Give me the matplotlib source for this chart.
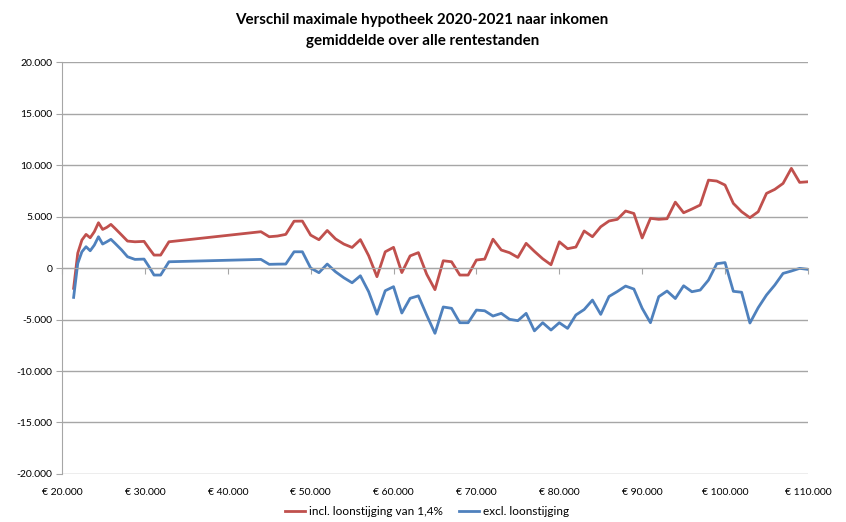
import matplotlib
matplotlib.use("Agg")
import matplotlib.pyplot as plt
from matplotlib.ticker import FuncFormatter, MultipleLocator, FixedLocator

plt.rcParams["font.family"] = ["Lato", "DejaVu Sans"]

# inkomen (x) en verschil maximale hypotheek
inkomen = [21400, 21900, 22400, 22900, 23400, 23900, 24400, 24900, 25400, 25900,
           26400, 27200, 27900, 28800, 29900, 30500, 31100, 31900, 32900,
           44000, 45000, 46000, 47000, 48000, 49000, 50000, 51000, 52000, 53000,
           54000, 55000, 56000, 57000, 58000, 59000, 60000, 61000, 62000, 63000,
           64000, 65000, 66000, 67000, 68000, 69000, 70000, 71000, 72000, 73000,
           74000, 75000, 76000, 77000, 78000, 79000, 80000, 81000, 82000, 83000,
           84000, 85000, 86000, 87000, 88000, 89000, 90000, 91000, 92000, 93000,
           94000, 95000, 96000, 97000, 98000, 99000, 100000, 101000, 102000, 103000,
           104000, 105000, 106000, 107000, 108000, 109000, 110000]

incl_loonstijging = [-1970, 1450, 2720, 3270, 2940, 3530, 4400, 3750, 3950, 4240,
                     3850, 3200, 2620, 2550, 2590, 1910, 1260, 1260, 2550,
                     3530, 3040, 3110, 3270, 4550, 4560, 3200, 2750, 3650, 2830,
                     2330, 2000, 2760, 1200, -840, 1580, 2010, -440, 1180, 1500,
                     -600, -2100, 710, 610, -680, -680, 780, 870, 2800, 1750,
                     1490, 1030, 2400, 1620, 900, 320, 2550, 1880, 2040, 3600,
                     3040, 4010, 4570, 4730, 5540, 5300, 2920, 4830, 4730, 4790,
                     6400, 5370, 5730, 6120, 8540, 8450, 8060, 6280, 5470, 4890,
                     5470, 7250, 7640, 8220, 9680, 8320, 8380]

excl_loonstijging = [-2850, 450, 1580, 2070, 1680, 2230, 3040, 2330, 2550, 2790,
                     2400, 1750, 1100, 840, 870, 130, -680, -680, 610,
                     840, 360, 380, 390, 1580, 1580, 0, -450, 390, -360,
                     -940, -1430, -750, -2300, -4480, -2200, -1810, -4370, -2940, -2700,
                     -4570, -6340, -3780, -3910, -5310, -5310, -4080, -4150, -4660, -4400,
                     -4980, -5110, -4400, -6100, -5310, -6020, -5310, -5860, -4560, -4030,
                     -3110, -4500, -2760, -2280, -1750, -2040, -3910, -5310, -2780, -2230,
                     -2960, -1720, -2300, -2140, -1170, 420, 530, -2260, -2350, -5340,
                     -3850, -2620, -1650, -520, -290, -30, -130]

x_ticks = [20000, 30000, 40000, 50000, 60000, 70000, 80000, 90000, 100000, 110000]

red = "#C0504D"
blue = "#4F81BD"
grid_color = "#a6a6a6"


def nl_getal(v, pos=None):
    return f"{v:,.0f}".replace(",", ".")


def euro(v, pos=None):
    return "€ " + nl_getal(v)


fig = plt.figure(figsize=(8.46, 5.22), dpi=100)
ax = fig.add_axes([0.0733, 0.092, 0.8817, 0.789])

ax.plot(inkomen, incl_loonstijging, color=red, linewidth=2.0, label="incl. loonstijging van 1,4%")
ax.plot(inkomen, excl_loonstijging, color=blue, linewidth=2.0, label="excl. loonstijging")

ax.set_xlim(20000, 110000)
ax.set_ylim(-20000, 20000)
ax.yaxis.set_major_locator(MultipleLocator(5000))
ax.yaxis.set_major_formatter(FuncFormatter(nl_getal))
ax.grid(True, axis="y", color=grid_color, linewidth=1.0)
ax.set_axisbelow(True)

# horizontale as snijdt bij 0, labels onderaan
ax.xaxis.set_major_locator(FixedLocator(x_ticks))
ax.spines["bottom"].set_position(("data", 0))
ax.spines["bottom"].set_color(grid_color)
ax.spines["left"].set_color(grid_color)
ax.spines["top"].set_visible(False)
ax.spines["right"].set_visible(False)
ax.tick_params(axis="x", direction="out", length=4, color=grid_color, labelbottom=False)
ax.tick_params(axis="y", direction="out", length=4, color=grid_color, labelsize=7.5, pad=3)

sec = ax.secondary_xaxis(0.0)
sec.xaxis.set_major_locator(FixedLocator(x_ticks))
sec.xaxis.set_major_formatter(FuncFormatter(euro))
sec.tick_params(length=0, labelsize=7.5, pad=10)
sec.spines["bottom"].set_visible(False)

fig.text(0.499, 0.962, "Verschil maximale hypotheek 2020-2021 naar inkomen",
         ha="center", va="center", fontsize=10.9, fontweight="bold")
fig.text(0.499, 0.922, "gemiddelde over alle rentestanden",
         ha="center", va="center", fontsize=10.9, fontweight="bold")

fig.legend(loc="center", bbox_to_anchor=(0.505, 0.02), ncol=2, frameon=False,
           fontsize=8.5, handlelength=1.7, columnspacing=1.4, handletextpad=0.3)

fig.savefig("out.png", dpi=100, facecolor="white")
